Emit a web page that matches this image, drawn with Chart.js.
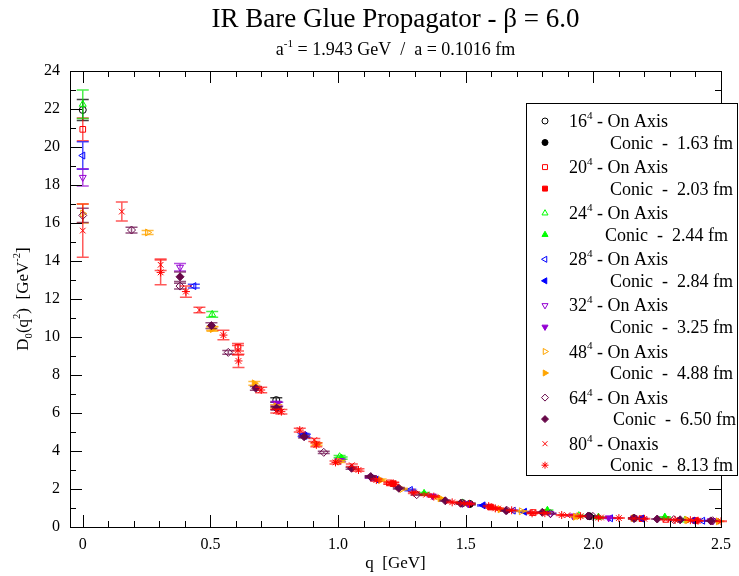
<!DOCTYPE html>
<html>
<head>
<meta charset="utf-8">
<script src="https://cdn.jsdelivr.net/npm/chart.js@4.4.0/dist/chart.umd.min.js"></script>
<style>
html, body { margin: 0; padding: 0; background: #fff; }
#wrap { width: 739px; height: 576px; }
</style>
</head>
<body>
<div id="wrap"><canvas id="chart" width="739" height="576"></canvas></div>
<script>
// lattices and their physical sizes
const lattices = ['16', '20', '24', '28', '32', '48', '64', '80'];
const physicalSizes = ['1.63', '2.03', '2.44', '2.84', '3.25', '4.88', '6.50', '8.13'];

// momentum q [GeV], propagator D(q^2) [GeV^-2], error
const q16On = [0, 0.758, 1.487, 2.159];
const d16On = [21.95, 6.68, 1.26, 0.46];
const e16On = [0.55, 0.12, 0.04, 0.02];
const q16Conic = [1.516, 1.984];
const d16Conic = [1.21, 0.57];
const e16Conic = [0.04, 0.02];

const q20On = [0, 0.608, 1.201, 1.764, 2.284];
const d20On = [20.93, 9.46, 2.32, 0.76, 0.40];
const e20On = [0.6, 0.2, 0.06, 0.02, 0.015];
const q20Conic = [1.216, 1.597, 2.19, 2.40];
const d20Conic = [2.28, 1.05, 0.44, 0.34];
const e20Conic = [0.06, 0.03, 0.015, 0.01];

const q24On = [0, 0.507, 1.006, 1.487, 1.943, 2.359];
const d24On = [22.25, 11.19, 3.7, 1.27, 0.6, 0.37];
const e24On = [0.75, 0.15, 0.06, 0.04, 0.02, 0.01];
const q24Conic = [1.014, 1.337, 1.82, 2.02, 2.28];
const d24Conic = [3.62, 1.77, 0.88, 0.52, 0.52];
const e24Conic = [0.06, 0.04, 0.02, 0.015, 0.015];

const q28On = [0, 0.435, 0.865, 1.283, 1.686, 2.067, 2.428];
const d28On = [19.55, 12.68, 4.84, 1.95, 0.86, 0.46, 0.33];
const e28On = [0.72, 0.1, 0.08, 0.04, 0.02, 0.015, 0.01];
const q28Conic = [0.870, 1.150, 1.568, 1.730, 2.190, 2.390];
const d28Conic = [4.80, 2.50, 1.14, 0.80, 0.45, 0.34];
const e28Conic = [0.08, 0.05, 0.03, 0.02, 0.015, 0.01];

const q32On = [0, 0.381, 0.758, 1.128, 1.487, 1.832, 2.159, 2.469];
const d32On = [18.4, 13.67, 6.51, 2.62, 1.25, 0.70, 0.46, 0.33];
const e32On = [0.45, 0.2, 0.1, 0.05, 0.03, 0.02, 0.015, 0.01];
const q32Conic = [0.762, 1.008, 1.370, 1.510, 1.920, 2.060, 2.460];
const d32Conic = [6.46, 3.50, 1.63, 1.22, 0.58, 0.48, 0.33];
const e32Conic = [0.1, 0.06, 0.04, 0.03, 0.02, 0.015, 0.01];

const q48On = [0, 0.254, 0.507, 0.758, 1.006, 1.250, 1.487, 1.718, 1.943, 2.159, 2.366];
const d48On = [16.5, 15.5, 10.45, 6.35, 3.45, 2.0, 1.25, 0.83, 0.57, 0.46, 0.37];
const e48On = [0.5, 0.1, 0.1, 0.08, 0.05, 0.04, 0.03, 0.02, 0.015, 0.012, 0.01];
const q48Conic = [0.508, 0.672, 0.916, 1.167, 1.400, 1.635, 1.930, 2.370, 2.490];
const d48Conic = [10.42, 7.56, 4.37, 2.47, 1.51, 0.93, 0.54, 0.36, 0.30];
const e48Conic = [0.12, 0.1, 0.07, 0.05, 0.03, 0.02, 0.015, 0.01, 0.01];

const q64On = [0, 0.191, 0.381, 0.570, 0.758, 0.944, 1.128, 1.308, 1.487, 1.661, 1.832, 1.998, 2.159, 2.315, 2.467];
const d64On = [16.4, 15.63, 12.68, 9.19, 6.25, 3.93, 2.64, 1.70, 1.25, 0.88, 0.70, 0.56, 0.46, 0.39, 0.33];
const e64On = [0.37, 0.15, 0.15, 0.1, 0.08, 0.06, 0.04, 0.03, 0.03, 0.02, 0.02, 0.015, 0.012, 0.01, 0.01];
const q64Conic = [0.381, 0.504, 0.678, 0.760, 0.867, 1.053, 1.128, 1.238, 1.420, 1.480, 1.658, 1.800, 1.980, 2.160, 2.250, 2.340, 2.460];
const d64Conic = [13.17, 10.6, 7.3, 6.25, 4.75, 3.09, 2.65, 2.04, 1.38, 1.25, 0.86, 0.77, 0.58, 0.46, 0.42, 0.38, 0.32];
const e64Conic = [0.25, 0.15, 0.1, 0.08, 0.07, 0.05, 0.05, 0.04, 0.03, 0.03, 0.02, 0.02, 0.015, 0.012, 0.01, 0.01, 0.01];

const q80On = [0, 0.153, 0.305, 0.457, 0.608, 0.758, 0.907, 1.054, 1.201, 1.345, 1.487, 1.627, 1.764, 1.898, 2.030, 2.159, 2.284, 2.406];
const d80On = [15.6, 16.6, 13.8, 11.42, 9.3, 6.1, 4.58, 3.25, 2.3, 1.7, 1.25, 0.97, 0.76, 0.62, 0.5, 0.45, 0.4, 0.33];
const e80On = [1.4, 0.5, 0.3, 0.15, 0.25, 0.1, 0.08, 0.06, 0.05, 0.04, 0.03, 0.025, 0.02, 0.02, 0.015, 0.012, 0.01, 0.01];
const q80Conic = [0.305, 0.404, 0.551, 0.610, 0.699, 0.778, 0.850, 0.915, 0.990, 1.080, 1.150, 1.216, 1.297, 1.375, 1.447, 1.515, 1.590, 1.616, 1.680, 1.760, 1.810, 1.876, 1.950, 2.020, 2.100, 2.200, 2.320, 2.380, 2.410, 2.500];
const d80Conic = [13.4, 12.39, 10.1, 8.74, 7.21, 6.07, 5.1, 4.32, 3.4, 3.0, 2.47, 2.3, 1.81, 1.6, 1.3, 1.22, 1.1, 0.98, 0.88, 0.72, 0.73, 0.63, 0.57, 0.49, 0.47, 0.43, 0.37, 0.36, 0.33, 0.30];
const e80Conic = [0.65, 0.3, 0.25, 0.35, 0.15, 0.12, 0.1, 0.1, 0.08, 0.06, 0.06, 0.06, 0.05, 0.04, 0.04, 0.03, 0.03, 0.03, 0.02, 0.02, 0.02, 0.02, 0.015, 0.015, 0.015, 0.012, 0.01, 0.01, 0.01, 0.01];

const onAxis = [[q16On, d16On, e16On], [q20On, d20On, e20On], [q24On, d24On, e24On], [q28On, d28On, e28On],
                [q32On, d32On, e32On], [q48On, d48On, e48On], [q64On, d64On, e64On], [q80On, d80On, e80On]];
const conic = [[q16Conic, d16Conic, e16Conic], [q20Conic, d20Conic, e20Conic], [q24Conic, d24Conic, e24Conic], [q28Conic, d28Conic, e28Conic],
               [q32Conic, d32Conic, e32Conic], [q48Conic, d48Conic, e48Conic], [q64Conic, d64Conic, e64Conic], [q80Conic, d80Conic, e80Conic]];

// styles (grace palette)
const colors = ['#000000', '#ff0000', '#00ff00', '#0000ff', '#9400d3', '#ffa500', '#670748', '#ff0000'];
const barColors = ['rgba(0,0,0,0.75)', 'rgba(255,0,0,0.65)', 'rgba(0,230,0,0.7)', 'rgba(0,0,255,0.7)',
                   'rgba(148,0,211,0.7)', 'rgba(255,165,0,0.75)', 'rgba(103,7,72,0.7)', 'rgba(255,0,0,0.65)'];
const markers = [
    { style: 'circle', rotation: 0, radius: 3.5 },
    { style: 'rect', rotation: 0, radius: 4 },
    { style: 'triangle', rotation: 0, radius: 4 },
    { style: 'triangle', rotation: 270, radius: 4 },
    { style: 'triangle', rotation: 180, radius: 4 },
    { style: 'triangle', rotation: 90, radius: 4 },
    { style: 'rectRot', rotation: 0, radius: 4 },
    { style: 'crossRot', rotation: 0, radius: 4 }
];
const FONT = '"Liberation Serif", "Times New Roman", serif';

function points(set)
{
    return set[0].map(function(q, i) { return { x: q, y: set[1][i], e: set[2][i] }; });
}

function makeDataset(i, filled)
{
    const m = markers[i];
    let style = m.style;
    if(i === 7 && filled) style = 'star';
    return {
        label: lattices[i] + (filled ? ' conic' : ' on axis'),
        data: points(filled ? conic[i] : onAxis[i]),
        pointStyle: style,
        rotation: m.rotation,
        pointRadius: m.radius,
        pointBorderWidth: 1,
        borderColor: colors[i],
        backgroundColor: filled ? colors[i] : 'rgba(0,0,0,0)',
        errorColor: barColors[i],
        showLine: false
    };
}

const datasets = [];
for(let i = 0; i < lattices.length; i++)
{
    datasets.push(makeDataset(i, false));
    datasets.push(makeDataset(i, true));
}
// later sets drawn on top, like grace
datasets.forEach(function(ds, i) { ds.order = datasets.length - i; });

function drawRich(ctx, parts, x, y, size, align)
{
    let w = 0;
    parts.forEach(function(p) {
        ctx.font = (p[1] ? size * 0.62 : size) + 'px ' + FONT;
        w += ctx.measureText(p[0]).width;
    });
    let cx = align === 'center' ? x - w / 2 : x;
    ctx.textAlign = 'left';
    ctx.textBaseline = 'alphabetic';
    parts.forEach(function(p) {
        ctx.font = (p[1] ? size * 0.62 : size) + 'px ' + FONT;
        const dy = p[1] > 0 ? -size * 0.45 : (p[1] < 0 ? size * 0.25 : 0);
        ctx.fillText(p[0], cx, y + dy);
        cx += ctx.measureText(p[0]).width;
    });
}

const errorBars = {
    id: 'errorBars',
    beforeDatasetDraw(chart, args)
    {
        const ds = chart.data.datasets[args.index];
        const xs = chart.scales.x, ys = chart.scales.y, ctx = chart.ctx;
        ctx.save();
        ctx.strokeStyle = ds.errorColor;
        ctx.lineWidth = 1.5;
        ds.data.forEach(function(p) {
            const px = xs.getPixelForValue(p.x);
            const top = ys.getPixelForValue(p.y + p.e), bot = ys.getPixelForValue(p.y - p.e);
            ctx.beginPath();
            ctx.moveTo(px, top); ctx.lineTo(px, bot);
            ctx.moveTo(px - 6, top); ctx.lineTo(px + 6, top);
            ctx.moveTo(px - 6, bot); ctx.lineTo(px + 6, bot);
            ctx.stroke();
        });
        ctx.restore();
    }
};

const frame = {
    id: 'frame',
    afterDatasetsDraw(chart)
    {
        const a = chart.chartArea, ctx = chart.ctx;
        const xs = chart.scales.x, ys = chart.scales.y;
        ctx.save();
        ctx.strokeStyle = '#000';
        ctx.lineWidth = 1;
        ctx.strokeRect(Math.round(a.left) + 0.5, Math.round(a.top) + 0.5, Math.round(a.right - a.left), Math.round(a.bottom - a.top));
        ctx.beginPath();
        for(let k = 0; k <= 25; k++)
        {
            const px = Math.round(xs.getPixelForValue(k / 10)) + 0.5;
            const len = k % 5 === 0 ? 12 : 6;
            ctx.moveTo(px, a.bottom); ctx.lineTo(px, a.bottom - len);
            ctx.moveTo(px, a.top); ctx.lineTo(px, a.top + len);
        }
        for(let k = 0; k <= 24; k++)
        {
            const py = Math.round(ys.getPixelForValue(k)) + 0.5;
            const len = k % 2 === 0 ? 12 : 6;
            ctx.moveTo(a.left, py); ctx.lineTo(a.left + len, py);
            ctx.moveTo(a.right, py); ctx.lineTo(a.right - len, py);
        }
        ctx.stroke();
        ctx.restore();
    }
};

const texts = {
    id: 'texts',
    afterDraw(chart)
    {
        const a = chart.chartArea, ctx = chart.ctx;
        const cx = (a.left + a.right) / 2;
        ctx.save();
        ctx.fillStyle = '#000';
        drawRich(ctx, [['IR Bare Glue Propagator - \u03b2 = 6.0', 0]], cx, 27, 27, 'center');
        drawRich(ctx, [['a', 0], ['-1', 1], [' = 1.943 GeV  /  a = 0.1016 fm', 0]], cx, 55, 18, 'center');
        drawRich(ctx, [['q  [GeV]', 0]], cx, 568, 17, 'center');
        ctx.translate(28, (a.top + a.bottom) / 2);
        ctx.rotate(-Math.PI / 2);
        drawRich(ctx, [['D', 0], ['0', -1], ['(q', 0], ['2', 1], [')  [GeV', 0], ['-2', 1], [']', 0]], 0, 0, 17, 'center');
        ctx.restore();

        // legend box
        const conicX = [610, 610, 605, 610, 610, 610, 613, 610];
        ctx.save();
        ctx.fillStyle = '#fff';
        ctx.fillRect(526.5, 103.5, 211, 372);
        ctx.strokeStyle = '#000';
        ctx.lineWidth = 1;
        ctx.strokeRect(526.5, 103.5, 211, 372);
        for(let i = 0; i < lattices.length; i++)
        {
            const yOn = 121 + i * 46.1, yConic = yOn + 21.5;
            [false, true].forEach(function(filled) {
                const ds = datasets[i * 2 + (filled ? 1 : 0)];
                const y = filled ? yConic : yOn;
                ctx.strokeStyle = colors[i];
                ctx.fillStyle = filled ? colors[i] : 'rgba(0,0,0,0)';
                ctx.lineWidth = 1;
                Chart.helpers.drawPoint(ctx, { pointStyle: ds.pointStyle, rotation: ds.rotation, radius: ds.pointRadius - 0.5, borderWidth: 1 }, 545, y);
            });
            ctx.fillStyle = '#000';
            drawRich(ctx, [[lattices[i], 0], ['4', 1], [i === 7 ? ' - Onaxis' : ' - On Axis', 0]], 569, yOn + 6, 18, 'left');
            drawRich(ctx, [['Conic  -  ' + physicalSizes[i] + ' fm', 0]], conicX[i], yConic + 6, 18, 'left');
        }
        ctx.restore();
    }
};

const tickFont = { family: FONT, size: 16 };

const chart = new Chart(document.getElementById('chart'), {
    type: 'scatter',
    data: { datasets: datasets },
    options: {
        responsive: false,
        animation: false,
        devicePixelRatio: 1,
        layout: { padding: { top: 71, right: 17, left: 0, bottom: 0 } },
        plugins: { legend: { display: false }, tooltip: { enabled: false }, title: { display: false } },
        scales: {
            x: {
                type: 'linear', min: -0.05, max: 2.5,
                grid: { display: false, drawTicks: false },
                border: { display: false },
                ticks: { stepSize: 0.5, includeBounds: false, font: tickFont, color: '#000', padding: 8, maxRotation: 0 },
                afterFit: function(s) { s.height = 49; }
            },
            y: {
                type: 'linear', min: 0, max: 24,
                grid: { display: false, drawTicks: false },
                border: { display: false },
                ticks: { stepSize: 2, font: tickFont, color: '#000', padding: 10 },
                afterFit: function(s) { s.width = 70; }
            }
        }
    },
    plugins: [errorBars, frame, texts]
});
</script>
</body>
</html>
